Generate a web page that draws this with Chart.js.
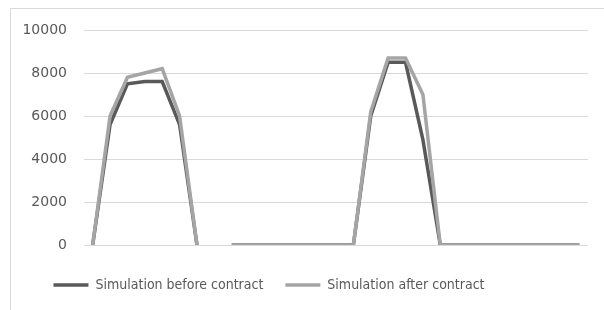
<!DOCTYPE html>
<html>
<head>
<meta charset="utf-8">
<script src="https://cdn.jsdelivr.net/npm/chart.js@4/dist/chart.umd.min.js"></script>
<style>
  html, body { margin: 0; padding: 0; background: #fff; }
  #wrap { position: relative; width: 604px; height: 310px; overflow: hidden; }
  #frame { position: absolute; left: 10px; top: 8px; width: 700px; height: 400px; border: 1px solid #d9d9d9; box-sizing: border-box; }
  #chart { position: absolute; left: 0; top: 0; }
</style>
</head>
<body>
<div id="wrap">
  <div id="frame"></div>
  <canvas id="chart" width="604" height="310"></canvas>
</div>
<script>
// ===== DATA =====
const categories = Array.from({ length: 29 }, (_, i) => String(i + 1));
const beforeContract = [0, 5600, 7500, 7600, 7600, 5600, 0, null,
  0, 0, 0, 0, 0, 0, 0, 0, 6000, 8500, 8500, 4900, 0,
  0, 0, 0, 0, 0, 0, 0, 0];
const afterContract = [0, 6000, 7800, 8000, 8200, 6000, 0, null,
  0, 0, 0, 0, 0, 0, 0, 0, 6200, 8700, 8700, 7000, 0,
  0, 0, 0, 0, 0, 0, 0, 0];
const yTicks = [0, 2000, 4000, 6000, 8000, 10000];

const COLORS = {
  dark: '#595959',
  light: '#a5a5a5',
  grid: '#d9d9d9',
  text: '#595959',
};

// legend in the original sits a bit left of centre and a little lower
const legendShift = {
  id: 'legendShift',
  afterLayout(chart) {
    const lg = chart.legend;
    if (!lg) return;
    lg.left -= 25;
    lg.right -= 25;
    lg.top += 3;
    lg.bottom += 3;
    lg.adjustHitBoxes();
  },
};

new Chart(document.getElementById('chart'), {
  type: 'line',
  data: {
    labels: categories,
    datasets: [
      {
        label: 'Simulation before contract',
        data: beforeContract,
        borderColor: COLORS.dark,
        backgroundColor: COLORS.dark,
        borderWidth: 3.5,
        pointRadius: 0,
        tension: 0,
        spanGaps: false,
        order: 1,
      },
      {
        label: 'Simulation after contract',
        data: afterContract,
        borderColor: COLORS.light,
        backgroundColor: COLORS.light,
        borderWidth: 3.5,
        pointRadius: 0,
        tension: 0,
        spanGaps: false,
        order: 0,
      },
    ],
  },
  plugins: [legendShift],
  options: {
    responsive: false,
    animation: false,
    layout: { padding: { top: 30, right: 16, left: 0, bottom: 11 } },
    scales: {
      x: {
        offset: true,
        grid: { display: false },
        border: { display: false },
        ticks: { display: false },
      },
      y: {
        min: 0,
        max: 10000,
        afterBuildTicks: (scale) => { scale.ticks = yTicks.map(v => ({ value: v })); },
        afterFit: (scale) => { scale.width = 84; },
        grid: { color: COLORS.grid, lineWidth: 1, drawTicks: false },
        border: { display: false },
        ticks: {
          color: COLORS.text,
          padding: 17,
          font: { family: 'DejaVu Sans', size: 14 },
          callback: (v) => String(v),
        },
      },
    },
    plugins: {
      tooltip: { enabled: false },
      legend: {
        position: 'bottom',
        labels: {
          color: COLORS.text,
          font: { family: 'DejaVu Sans Condensed', size: 14 },
          usePointStyle: true,
          pointStyle: 'line',
          pointStyleWidth: 35,
          padding: 22,
          sort: (a, b) => a.datasetIndex - b.datasetIndex,
        },
      },
    },
  },
});
</script>
</body>
</html>
